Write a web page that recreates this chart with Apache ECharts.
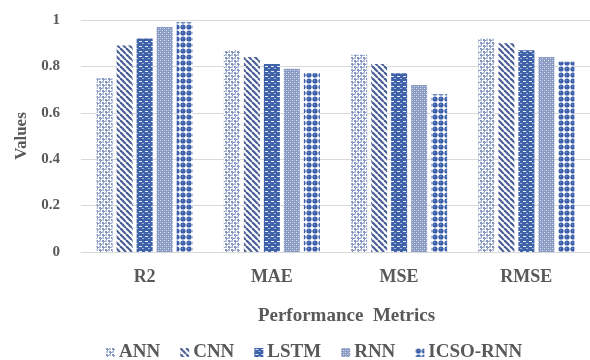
<!DOCTYPE html>
<html>
<head>
<meta charset="utf-8">
<script src="https://cdn.jsdelivr.net/npm/echarts@6/dist/echarts.min.js"></script>
<style>
  html, body { margin: 0; padding: 0; background: #fff; }
  #chart { width: 590px; height: 360px; }
</style>
</head>
<body>
<div id="chart"></div>
<script>
// Performance metrics per model
const categories = ['R2', 'MAE', 'MSE', 'RMSE'];
const seriesNames = ['ANN', 'CNN', 'LSTM', 'RNN', 'ICSO-RNN'];
const annValues = [0.75, 0.87, 0.85, 0.92];
const cnnValues = [0.89, 0.84, 0.81, 0.90];
const lstmValues = [0.92, 0.81, 0.77, 0.87];
const rnnValues = [0.97, 0.79, 0.72, 0.84];
const icsoRnnValues = [0.99, 0.77, 0.68, 0.82];
const yTicks = [0, 0.2, 0.4, 0.6, 0.8, 1];

// Small canvas tiles used as fill patterns
function tile(w, h, draw) {
  const c = document.createElement('canvas');
  c.width = w; c.height = h;
  const g = c.getContext('2d');
  g.fillStyle = '#ffffff';
  g.fillRect(0, 0, w, h);
  draw(g);
  return { image: c, repeat: 'repeat' };
}

const patterns = [
  // ANN: light diamond lattice
  tile(6, 6, g => {
    g.fillStyle = '#8597c0';
    g.fillRect(0, 0, 2, 2); g.fillRect(3, 3, 2, 2);
    g.fillRect(2, 1, 1, 1); g.fillRect(5, 4, 1, 1);
    g.fillRect(1, 2, 1, 1); g.fillRect(4, 5, 1, 1);
    g.fillStyle = '#b3c0db';
    g.fillRect(3, 0, 2, 2); g.fillRect(0, 3, 2, 2);
  }),
  // CNN: diagonal stripes
  tile(6, 6, g => {
    g.strokeStyle = '#4a5e96';
    g.lineWidth = 2.2;
    for (let k = -6; k <= 12; k += 6) {
      g.beginPath(); g.moveTo(k, 0); g.lineTo(k + 6, 6); g.stroke();
    }
  }),
  // LSTM: dark blue with white dashes
  tile(6, 5, g => {
    g.fillStyle = '#3f62a8';
    g.fillRect(0, 0, 6, 5);
    g.fillStyle = '#e8eef8';
    g.fillRect(1, 1, 3, 1);
    g.fillStyle = '#9fb3d9';
    g.fillRect(4, 3, 2, 1);
  }),
  // RNN: fine blue-grey checker
  tile(4, 4, g => {
    g.fillStyle = '#8a9bc3';
    g.fillRect(0, 0, 4, 4);
    g.fillStyle = '#dfe5f1';
    g.fillRect(0, 0, 1, 1); g.fillRect(2, 2, 1, 1);
    g.fillStyle = '#aab7d4';
    g.fillRect(2, 0, 1, 1); g.fillRect(0, 2, 1, 1);
  }),
  // ICSO-RNN: blue circles
  tile(6, 6, g => {
    g.fillStyle = '#3a5ea8';
    g.beginPath(); g.arc(3, 3, 2.6, 0, Math.PI * 2); g.fill();
    g.fillStyle = '#7d97cc';
    g.fillRect(2, 2, 1, 1);
  })
];

const valueSets = [annValues, cnnValues, lstmValues, rnnValues, icsoRnnValues];
const textColor = '#595959';
const font = '"Liberation Serif", "Times New Roman", serif';

const chart = echarts.init(document.getElementById('chart'), null, { renderer: 'canvas' });
chart.setOption({
  backgroundColor: '#ffffff',
  animation: false,
  grid: { left: 81, width: 520, top: 20, height: 232, containLabel: false },
  xAxis: {
    type: 'category',
    data: categories,
    name: 'Performance  Metrics',
    nameLocation: 'middle',
    nameGap: 55,
    nameTextStyle: {
      color: textColor, fontFamily: font, fontWeight: 'bold', fontSize: 19,
      padding: [0, 0, 0, 22]
    },
    axisLine: { lineStyle: { color: '#d9d9d9', width: 1 } },
    axisTick: { show: false },
    axisLabel: { color: textColor, fontFamily: font, fontWeight: 'bold', fontSize: 18, margin: 16 }
  },
  yAxis: {
    type: 'value',
    min: 0, max: 1, interval: 0.2,
    name: 'Values',
    nameLocation: 'middle',
    nameGap: 49,
    nameRotate: 90,
    nameTextStyle: { color: textColor, fontFamily: font, fontWeight: 'bold', fontSize: 17 },
    axisLine: { show: false },
    axisTick: { show: false },
    splitLine: { lineStyle: { color: '#d9d9d9', width: 1 } },
    axisLabel: {
      color: textColor, fontFamily: font, fontWeight: 'bold', fontSize: 15, margin: 21,
      formatter: v => {
        const t = yTicks.find(x => Math.abs(x - v) < 1e-9);
        return t === undefined ? '' : String(t);
      }
    }
  },
  legend: {
    top: 338,
    left: 101,
    itemWidth: 9,
    itemHeight: 9,
    itemGap: 20,
    icon: 'rect',
    textStyle: { color: textColor, fontFamily: font, fontWeight: 'bold', fontSize: 19, padding: [0, 0, 0, -1] },
    data: seriesNames
  },
  series: seriesNames.map((name, i) => ({
    name,
    type: 'bar',
    data: valueSets[i],
    barWidth: 16,
    barGap: '25%',
    itemStyle: { color: patterns[i] }
  }))
});
</script>
</body>
</html>
